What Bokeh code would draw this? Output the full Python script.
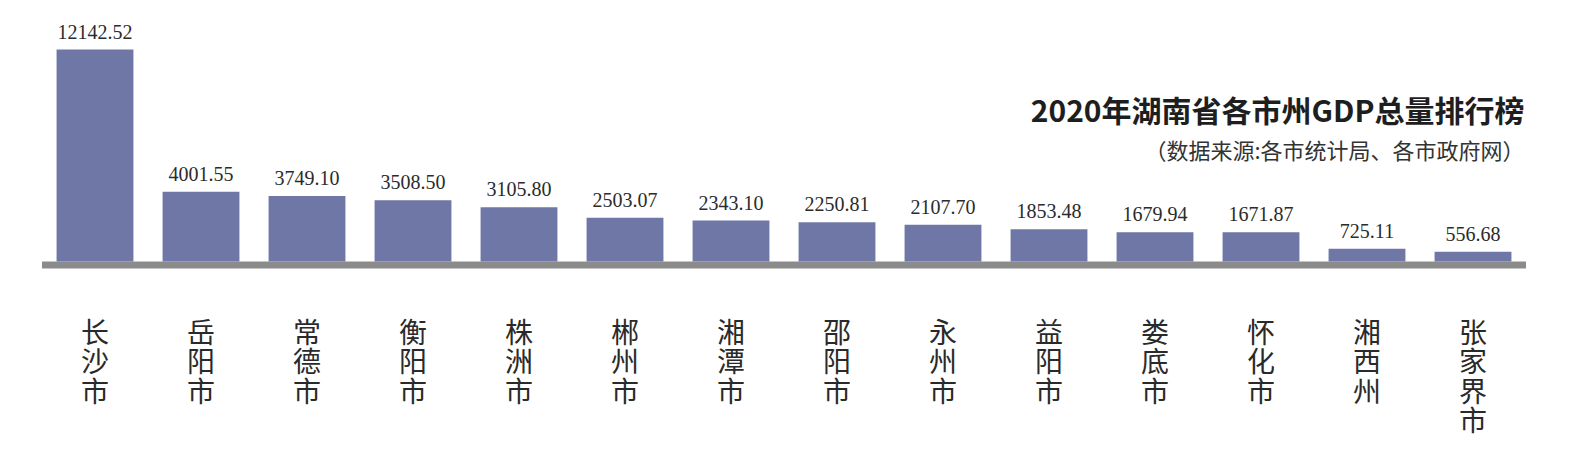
from bokeh.plotting import figure
from bokeh.models import ColumnDataSource, Range1d, Label
from bokeh.core.properties import value
from bokeh.embed import file_html
from bokeh.resources import INLINE

# 2020年湖南省各市州GDP总量（亿元）
cities = ["长沙市", "岳阳市", "常德市", "衡阳市", "株洲市", "郴州市", "湘潭市",
          "邵阳市", "永州市", "益阳市", "娄底市", "怀化市", "湘西州", "张家界市"]
gdp = [12142.52, 4001.55, 3749.10, 3508.50, 3105.80, 2503.07, 2343.10,
       2250.81, 2107.70, 1853.48, 1679.94, 1671.87, 725.11, 556.68]

title_text = "2020年湖南省各市州GDP总量排行榜"
source_text = "（数据来源:各市统计局、各市政府网）"

W, H = 1561, 442
units_per_px = 57.28          # 数值与像素的比例
base_px = 261                 # 柱底在画布中的位置（距顶部）
pitch = 106.0                 # 相邻柱子间距（像素）

idx = list(range(len(cities)))
source = ColumnDataSource(data=dict(
    x=idx,
    gdp=gdp,
    gdp_f=["{:.2f}".format(v) for v in gdp],
))

# 竖排城市名：逐字拆开
cx, cy, ch = [], [], []
for i, c in enumerate(cities):
    for r, t in enumerate(c):
        cx.append(i)
        cy.append(-(69 + r * 29.5) * units_per_px)
        ch.append(t)
name_src = ColumnDataSource(data=dict(x=cx, y=cy, t=ch))

x0 = -94.5 / pitch
p = figure(width=W, height=H, output_backend="svg", toolbar_location=None,
           tools="", min_border=0,
           x_range=Range1d(x0, x0 + W / pitch),
           y_range=Range1d(-(H - base_px) * units_per_px, base_px * units_per_px))
p.xaxis.visible = False
p.yaxis.visible = False
p.grid.visible = False
p.outline_line_color = None
p.background_fill_color = "white"
p.border_fill_color = "white"

# 灰色基线
p.segment(x0=-0.5, x1=len(cities) - 0.5, y0=-3.5 * units_per_px, y1=-3.5 * units_per_px,
          line_color="#8b8b8b", line_width=7)

p.vbar(x="x", top="gdp", bottom=0, width=0.725, source=source,
       fill_color="#6f77a6", line_color=None)

# 柱顶数值
p.text(x="x", y="gdp", text="gdp_f", source=source, y_offset=-18,
       text_align="center", text_baseline="alphabetic",
       text_font=value("Liberation Serif"), text_font_size="20px", text_color="#2b2b2b")

p.text(x="x", y="y", text="t", source=name_src,
       text_align="center", text_baseline="middle",
       text_font=value("Noto Sans CJK SC"), text_font_size="28px", text_color="#2a2a2a")

p.add_layout(Label(x=1524, y=H - 108, x_units="screen", y_units="screen",
                   text=title_text, text_align="right", text_baseline="middle",
                   text_font="Noto Sans CJK SC", text_font_style="bold",
                   text_font_size="30px", text_color="#1e1e1e"))
p.add_layout(Label(x=1524, y=H - 148, x_units="screen", y_units="screen",
                   text=source_text, text_align="right", text_baseline="middle",
                   text_font="Noto Sans CJK SC", text_font_size="22px", text_color="#333333"))

open("out.html", "w").write(file_html(p, INLINE))
